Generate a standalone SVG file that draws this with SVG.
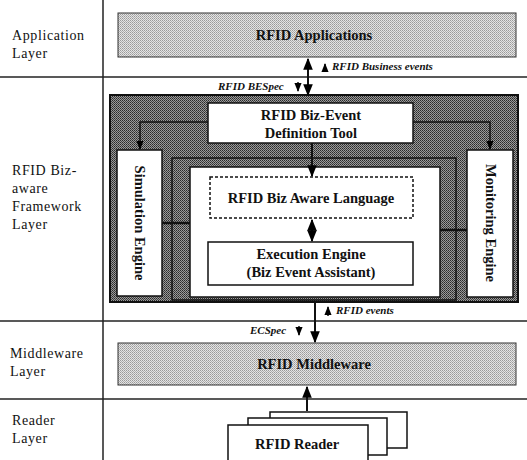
<svg xmlns="http://www.w3.org/2000/svg" width="527" height="460" viewBox="0 0 527 460">
<defs>
<pattern id="lg" width="2" height="2" patternUnits="userSpaceOnUse"><rect width="2" height="2" fill="#e4e4e4"/><rect width="1" height="1" fill="#9a9a9a"/><rect x="1" y="1" width="1" height="1" fill="#b0b0b0"/></pattern>
<pattern id="dg" width="2" height="2" patternUnits="userSpaceOnUse"><rect width="2" height="2" fill="#9a9a9a"/><rect width="1" height="1" fill="#2a2a2a"/><rect x="1" y="1" width="1" height="1" fill="#444"/></pattern>
<marker id="ah" viewBox="0 0 10 10" refX="9" refY="5" markerWidth="6" markerHeight="6" orient="auto-start-reverse"><path d="M0,1 L10,5 L0,9 z" fill="#000"/></marker>
<style>
.lay{font-family:"Liberation Serif",serif;font-size:14px;letter-spacing:0.6px;fill:#111}
.bt{font-family:"Liberation Serif",serif;font-size:14.5px;font-weight:bold;fill:#111;text-anchor:middle}
.lbl{font-family:"Liberation Serif",serif;font-size:11px;font-weight:bold;font-style:italic;fill:#111}
.wb{fill:#fff;stroke:#111;stroke-width:1.5}
.ln{stroke:#111;stroke-width:1.5;fill:none}
.ar{stroke:#111;stroke-width:2;fill:none}
.sep{stroke:#222;stroke-width:1.5}
</style>
</defs>
<rect width="527" height="460" fill="#fff"/>
<g id="layers">
<line class="sep" x1="103" y1="0" x2="103" y2="460"/>
<line class="sep" x1="0" y1="77" x2="527" y2="77"/>
<line class="sep" x1="0" y1="321" x2="527" y2="321"/>
<line class="sep" x1="0" y1="399" x2="527" y2="399"/>
<text class="lay" x="12" y="40">Application</text>
<text class="lay" x="12" y="58">Layer</text>
<text class="lay" x="12" y="175">RFID Biz-</text>
<text class="lay" x="12" y="193">aware</text>
<text class="lay" x="12" y="211">Framework</text>
<text class="lay" x="12" y="229">Layer</text>
<text class="lay" x="10" y="358">Middleware</text>
<text class="lay" x="10" y="376">Layer</text>
<text class="lay" x="12" y="425">Reader</text>
<text class="lay" x="12" y="443">Layer</text>
</g>
<g id="app">
<rect x="118" y="13" width="398" height="44" fill="url(#lg)" stroke="#333" stroke-width="1"/>
<text class="bt" x="314" y="40">RFID Applications</text>
</g>
<g id="framework">
<rect x="110" y="95" width="408" height="207" fill="url(#dg)" stroke="#111" stroke-width="2"/>
<rect x="172" y="158" width="284" height="142" fill="url(#dg)" stroke="#111" stroke-width="1.5"/>
<rect x="190" y="167" width="250" height="130" fill="#fff" stroke="#111" stroke-width="1.5"/>
</g>
<g id="deftool">
<rect class="wb" x="208" y="103" width="205" height="40"/>
<text class="bt" x="311" y="120">RFID Biz-Event</text>
<text class="bt" x="311" y="138">Definition Tool</text>
</g>
<g id="simulation">
<rect class="wb" x="117" y="150" width="45" height="146"/>
<text class="bt" transform="translate(135,223) rotate(90)">Simulation Engine</text>
</g>
<g id="monitoring">
<rect class="wb" x="467" y="150" width="46" height="147"/>
<text class="bt" transform="translate(486,223) rotate(90)">Monitoring Engine</text>
</g>
<g id="language">
<rect x="210" y="177" width="203" height="41" fill="#fff" stroke="#111" stroke-width="1.5" stroke-dasharray="3,2"/>
<text class="bt" x="311" y="203">RFID Biz Aware Language</text>
</g>
<g id="execution">
<rect class="wb" x="208" y="242" width="205" height="43"/>
<text class="bt" x="311" y="259">Execution Engine</text>
<text class="bt" x="311" y="277">(Biz Event Assistant)</text>
</g>
<g id="middleware">
<rect x="118" y="343" width="398" height="42" fill="url(#lg)" stroke="#333" stroke-width="1"/>
<text class="bt" x="314" y="369">RFID Middleware</text>
</g>
<g id="reader">
<rect class="wb" x="270" y="412" width="137" height="36" stroke-width="1"/>
<rect class="wb" x="248" y="418" width="139" height="37" stroke-width="1"/>
<rect class="wb" x="228" y="425" width="140" height="40" stroke-width="1"/>
<text class="bt" x="297" y="449">RFID Reader</text>
</g>
<g id="connectors">
<line class="ar" x1="308" y1="59" x2="308" y2="95" marker-start="url(#ah)" marker-end="url(#ah)"/>
<line class="ln" x1="325" y1="72" x2="325" y2="64" marker-end="url(#ah)"/>
<text class="lbl" x="332" y="70">RFID Business events</text>
<text class="lbl" x="218" y="90">RFID BESpec</text>
<line class="ln" x1="298" y1="82" x2="298" y2="91" marker-end="url(#ah)"/>
<path class="ln" d="M208,122 H140 V149" marker-end="url(#ah)" stroke-width="2"/>
<path class="ln" d="M413,122 H490 V149" marker-end="url(#ah)" stroke-width="2"/>
<line class="ar" x1="312" y1="143" x2="312" y2="176" marker-end="url(#ah)"/>
<line class="ar" x1="312" y1="220" x2="312" y2="241" marker-start="url(#ah)" marker-end="url(#ah)"/>
<line x1="162" y1="223" x2="190" y2="223" stroke="#111" stroke-width="2.5"/>
<line x1="440" y1="230" x2="467" y2="230" stroke="#111" stroke-width="2.5"/>
<line class="ar" x1="315" y1="302" x2="315" y2="342" marker-end="url(#ah)"/>
<line class="ln" x1="328" y1="316" x2="328" y2="307" marker-end="url(#ah)"/>
<text class="lbl" x="336" y="314">RFID events</text>
<text class="lbl" x="250" y="334">ECSpec</text>
<line class="ln" x1="299" y1="326" x2="299" y2="335" marker-end="url(#ah)"/>
<line class="ar" x1="307" y1="411" x2="307" y2="387" marker-end="url(#ah)"/>
</g>
</svg>
